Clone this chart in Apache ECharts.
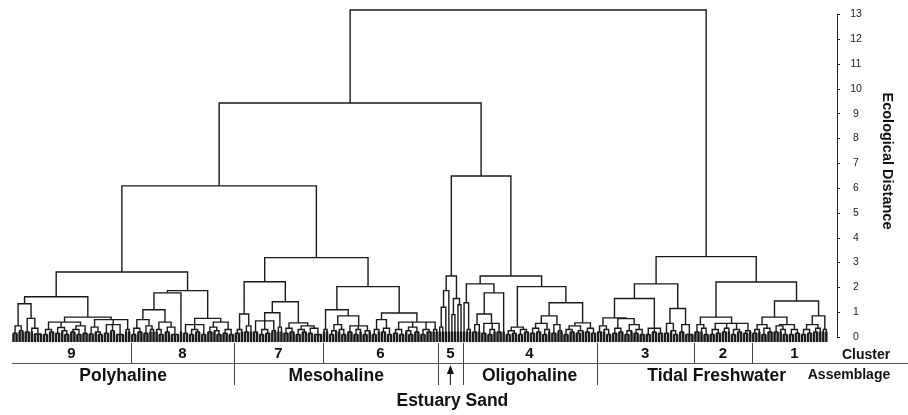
<!DOCTYPE html>
<html><head><meta charset="utf-8">
<script src="https://cdn.jsdelivr.net/npm/echarts@6/dist/echarts.min.js"></script>
<style>html,body{margin:0;padding:0;background:#fff}#c{width:908px;height:415px}</style>
</head><body><div id="c"></div>
<script>
// ---- DATA: dendrogram sub-trees per cluster, "(a,b)h" = merge at height h, "x" = sample ----
const cluster9 = "((((x,x).15,(x,x).25).45,((x,x).2,(x,(x,x,x).12).35).75)1.34,((((x,x).1,(x,x).2).3,((x,x).15,(x,(x,x).1).25).38,(((x,x).2,(x,x).1).3,(x,x).15).45).6,(((x,x).12,(x,(x,x).1).2).4,((x,x).15,(x,x).25,(x,x,x).1).5,(x,x).3).7).8)1.62";
const cluster8 = "((((((x,x).1,(x,x).2).35,((x,x).15,(x,x).3).45).7,((x,(x,x).1).3,((x,x).2,(x,x,x).1).4).6)1.1,x)1.78,(((x,x).15,((x,x).1,(x,x).2).3,(x,x).1).5,(((x,x).2,(x,(x,x).1).25).4,((x,x).15,(x,x).1).3).6).75)1.87";
const cluster7 = "((((x,x).15,x).3,((x,x).2,x).45).93,((((x,x).2,((x,x).1,(x,x).15).3,(x,x).25).65,(x,x).4).98,(((x,x).15,(x,x).2).35,(((x,x).1,(x,x).2).3,((x,x).15,(x,x,x).1).35).45).57)1.42)2.23";
const cluster6 = "(((x,x).3,((((x,x).1,x).25,(x,(x,x).1).3).5,((x,x).2,((x,x).1,x).3,((x,x).1,x).25).45).85)1.1,((((x,x).1,x).3,((x,x).2,(x,x).1).35).7,(((x,x).15,(x,x).1).3,((x,(x,x).1).25,(x,x).2).4,((x,x).1,(x,x).2).3,(x,x).3).6).97)2.03";
const cluster5 = "((((x,x).4,x)1.2,x)1.87,((x,x).9,(x,x)1.3)1.55)2.46";
const cluster4 = "(((x,(x,x).3)1.38,((((x,x).2,x).5,((x,x).15,((x,x).1,x).3,(x,x).2).55).93,x)1.78)2.14,((((x,x).1,(x,x).15).25,((x,x).1,(x,x).2).3).4,(((((x,x).15,(x,x).2).35,((x,x).1,x).3).55,((x,x).15,(x,x).25).5).85,((((x,x).1,(x,x).2).3,((x,x).15,x).25).45,((x,x).2,(x,x).15).35).57)1.38)2.03)2.46";
const cluster3 = "(((((x,x).2,(x,(x,x).1).3).45,(((x,x).15,(x,x).2).35,(((x,x).1,x).25,((x,x).15,(x,x).1).3).5).74).77,((x,x).1,(x,x).2,(x,x).15).35)1.55,(((x,x).15,(x,(x,x).1).25).55,((x,x).2,(x,x,x).1).5)1.15)2.14";
const cluster2 = "(((x,x).2,(x,(x,x).1).35).5,(((x,x).1,(x,x).15).3,((x,x).2,x).35,((x,x).1,(x,x).2).3,((x,x).15,x).25).55).8";
const cluster1 = "(((((x,x).15,x).3,((x,x).1,(x,x).2).35).5,(((x,x).2,(x,(x,x).1).3).45,((x,x).1,(x,x).15).3).5).8,((((x,x).1,(x,x).15).3,((x,x).2,x).35).5,(x,x).3).85)1.45";
// upper levels joining the clusters (C0 = cluster 9 ... C8 = cluster 1)
const topTree = "((((C0,C1)2.62,(C2,C3)3.2)6.09,(C4,C5)6.49)9.43,(C6,(C7,C8)2.22)3.24)13.18";
const clusterLabels = ["9","8","7","6","5","4","3","2","1"];
const assemblageNames = ["Polyhaline","Mesohaline","","Oligohaline","Tidal Freshwater"];
const assemblageSpans = [2,2,1,1,3];
const yTicks = [0,1,2,3,4,5,6,7,8,9,10,11,12,13];

const clusterTrees = [cluster9,cluster8,cluster7,cluster6,cluster5,cluster4,cluster3,cluster2,cluster1];
const leafBase = -0.2;
const stubTop = 0.22;

function parse(s){
  let i=0;
  function node(){
    if(s[i]==='x'){i++;return {leaf:true,h:leafBase};}
    i++;
    const ch=[node()];
    while(s[i]===','){i++;ch.push(node());}
    i++;
    const m=/^[0-9.]+/.exec(s.slice(i));
    if(!m) throw new Error('parse error at '+i);
    i+=m[0].length;
    return {children:ch,h:parseFloat(m[0])};
  }
  return node();
}
function countLeaves(n){return n.leaf?1:n.children.reduce((a,c)=>a+countLeaves(c),0);}
const clusterSizes = clusterTrees.map(s=>countLeaves(parse(s)));
const root = parse(topTree.replace(/C(\d)/g,(m,d)=>clusterTrees[+d]));
let leafCount=0;
function layout(n){
  if(n.leaf){n.x=leafCount++;return;}
  n.children.forEach(layout);
  n.x=(n.children[0].x+n.children[n.children.length-1].x)/2;
}
layout(root);
const N = leafCount;
const lineData=[], stubData=[];
function collect(n){
  if(n.leaf) return;
  const c=n.children, f=c[0], l=c[c.length-1];
  lineData.push({coords:[[f.x,f.h],[f.x,n.h],[l.x,n.h],[l.x,l.h]]});
  for(let k=1;k<c.length-1;k++) lineData.push({coords:[[c[k].x,c[k].h],[c[k].x,n.h]]});
  c.forEach(ch=>{ if(ch.leaf) stubData.push({coords:[[ch.x,leafBase],[ch.x,Math.min(n.h,stubTop)]]}); });
  c.forEach(collect);
}
collect(root);

const FONT='"Liberation Sans", Arial, Helvetica, sans-serif';
const chart = echarts.init(document.getElementById('c'), null, {renderer:'canvas'});
chart.setOption({
  animation:false,
  backgroundColor:'#ffffff',
  grid:{left:12,right:71,top:14.5,bottom:78},
  xAxis:{type:'value',min:-0.5,max:N+2.5,show:false},
  yAxis:{type:'value',position:'right',min:yTicks[0],max:yTicks[yTicks.length-1],interval:1,
    axisLine:{show:true,onZero:false,lineStyle:{color:'#222',width:1}},
    axisTick:{show:true,length:3,inside:false,lineStyle:{color:'#222'}},
    splitLine:{show:false},
    axisLabel:{margin:19,align:'center',fontSize:10.5,color:'#222',fontFamily:FONT}},
  series:[
    {type:'lines',coordinateSystem:'cartesian2d',polyline:true,clip:false,silent:true,
      lineStyle:{color:'#1a1a1a',width:1.4,opacity:1},data:lineData},
    {type:'lines',coordinateSystem:'cartesian2d',polyline:true,clip:false,silent:true,
      lineStyle:{color:'#1a1a1a',width:2.4,opacity:1},data:stubData}
  ]
});

const px=v=>chart.convertToPixel({xAxisIndex:0},v);
const y0=chart.convertToPixel({yAxisIndex:0},0);
const axisX=908-71;
const g=[];
const bounds=[0];
clusterSizes.forEach(s=>bounds.push(bounds[bounds.length-1]+s));
const edge=b=>px(b-0.5);
const rightEdge=b=>(b===N?axisX:edge(b));
const txt=(t,x,y,size,extra)=>g.push(Object.assign({type:'text',x:x,y:y,silent:true,style:{text:t,fill:'#111',font:'bold '+size+'px '+FONT,align:'center',verticalAlign:'middle'}},extra||{}));
const ln=(x1,y1,x2,y2,c)=>g.push({type:'line',silent:true,shape:{x1,y1,x2,y2},style:{stroke:c||'#444',lineWidth:1}});
// cluster row
for(let k=0;k<clusterLabels.length;k++){
  const a=edge(bounds[k]), b=rightEdge(bounds[k+1]);
  txt(clusterLabels[k],(a+b)/2,y0+16.5,15);
  if(k>0) ln(Math.round(a)+0.5,y0+6,Math.round(a)+0.5,y0+26);
}
txt('Cluster',866,y0+18,14);
ln(edge(0),y0+26.5,908,y0+26.5,'#555');
// assemblage row
let ci=0;
for(let k=0;k<assemblageNames.length;k++){
  const a=edge(bounds[ci]), b=rightEdge(bounds[ci+assemblageSpans[k]]);
  if(assemblageNames[k]) txt(assemblageNames[k],(a+b)/2,y0+39,17.5);
  if(ci>0) ln(Math.round(a)+0.5,y0+26,Math.round(a)+0.5,y0+48);
  ci+=assemblageSpans[k];
}
txt('Assemblage',849,y0+38,14);
// estuary sand arrow
const e5=(edge(bounds[4])+edge(bounds[5]))/2;
ln(e5,y0+48,e5,y0+34,'#111');
g.push({type:'polygon',silent:true,shape:{points:[[e5,y0+28],[e5-3.5,y0+37],[e5+3.5,y0+37]]},style:{fill:'#111'}});
txt('Estuary Sand',e5+2,y0+64.5,17.5);
// axis title
txt('Ecological Distance',887,161,14.5,{rotation:-Math.PI/2});
chart.setOption({graphic:g});
</script></body></html>
